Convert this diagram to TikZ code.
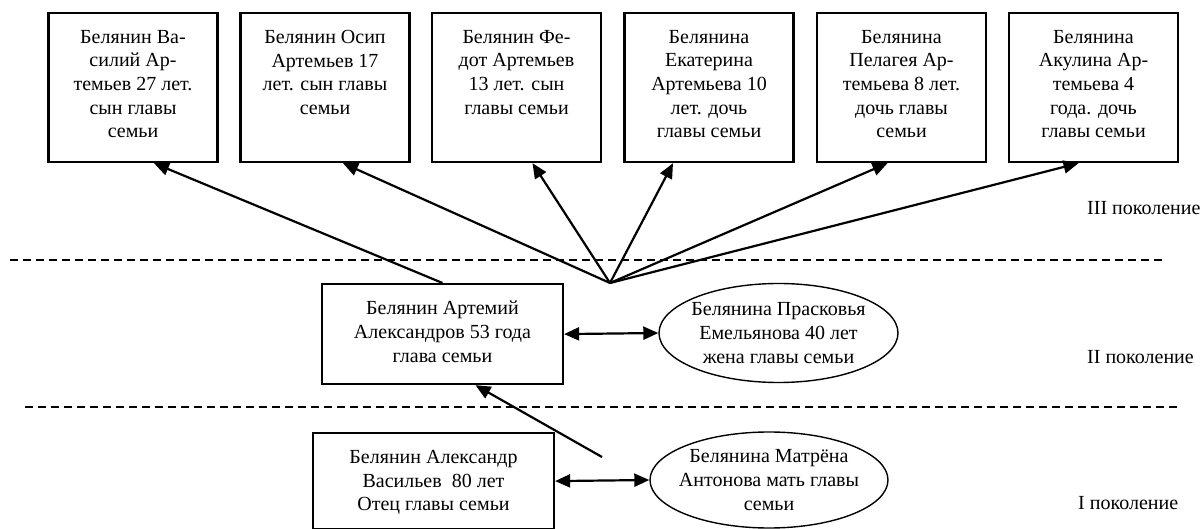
\documentclass[tikz,border=0pt]{standalone}
\usepackage{fontspec}
\setmainfont{Liberation Serif}
\usetikzlibrary{arrows.meta, shapes.geometric}

\newcommand{\toptext}[3]{\parbox[c][#2][t]{#1}{\centering\vspace*{17pt}#3}}

\tikzset{
  person/.style={draw, line width=2.2pt, inner sep=0pt, anchor=north},
  wife/.style={ellipse, draw, line width=1.4pt, inner xsep=-8pt, inner ysep=0pt, align=center},
  link/.style={line width=2.2pt, -{Triangle[length=15pt,width=13pt]}},
  marriage/.style={line width=2.2pt, {Triangle[length=15pt,width=13pt]}-{Triangle[length=15pt,width=13pt]}},
  border/.style={line width=1.4pt, dash pattern=on 8pt off 5pt},
  gen/.style={anchor=west, inner sep=0pt}
}

\begin{document}
\begin{tikzpicture}[x=1pt, y=-1pt, every node/.style={font=\fontsize{20pt}{23.7pt}\selectfont}]

    \useasboundingbox (0,0) rectangle (1203,529);

    % children of the head
    \node[person] (vasiliy) at (133,12) {\toptext{169pt}{149pt}{Белянин Ва-\\силий Ар-\\темьев 27 лет.\\сын главы\\семьи}};
    \node[person] (osip) at (325,12) {\toptext{169pt}{149pt}{Белянин Осип\\Артемьев 17\\лет. сын главы\\семьи}};
    \node[person] (fedot) at (516.5,12) {\toptext{169pt}{149pt}{Белянин Фе-\\дот Артемьев\\13 лет. сын\\главы семьи}};
    \node[person] (ekaterina) at (709,12) {\toptext{169pt}{149pt}{Белянина\\Екатерина\\Артемьева 10\\лет. дочь\\главы семьи}};
    \node[person] (pelageya) at (901.5,12) {\toptext{169pt}{149pt}{Белянина\\Пелагея Ар-\\темьева 8 лет.\\дочь главы\\семьи}};
    \node[person] (akulina) at (1093.5,12) {\toptext{169pt}{149pt}{Белянина\\Акулина Ар-\\темьева 4\\года. дочь\\главы семьи}};

    % head of the family and wife
    \node[person] (artemiy) at (442.5,283) {\toptext{241pt}{100pt}{Белянин Артемий\\Александров 53 года\\глава семьи}};
    \node[wife, minimum width=239pt, minimum height=99pt] (praskovya) at (778.5,333) {Белянина Прасковья\\Емельянова 40 лет\\жена главы семьи};

    % parents
    \node[person] (alexandr) at (433.5,432) {\toptext{241pt}{96pt}{Белянин Александр\\Васильев~ 80 лет\\Отец главы семьи}};
    \node[wife, minimum width=238pt, minimum height=96pt] (matryona) at (769,480) {Белянина Матрёна\\Антонова мать главы\\семьи};

    \coordinate (hub) at (610,283);
    \coordinate (mother) at (602,457);

    % arrows to the children
    \draw[link] (artemiy.north) -- ([xshift=21pt]vasiliy.south);
    \draw[link] (hub) -- ([xshift=18pt]osip.south);
    \draw[link] (hub) -- ([xshift=16pt]fedot.south);
    \draw[link] (hub) -- ([xshift=-36pt]ekaterina.south);
    \draw[link] (hub) -- ([xshift=-14pt]pelageya.south);
    \draw[link] (hub) -- ([xshift=-15pt]akulina.south);

    % parents to head
    \draw[link] (mother) -- ([xshift=33pt]artemiy.south);

    % couples
    \draw[marriage] (artemiy.east) -- (praskovya.west);
    \draw[marriage] (alexandr.east) -- (matryona.west);

    % generation borders
    \draw[border] (10,260) -- (1163,260);
    \draw[border] (25,407) -- (1177,407);

    \node[gen] (gen3) at (1087,208) {III поколение};
    \node[gen] (gen2) at (1087,357) {II поколение};
    \node[gen] (gen1) at (1078,503) {I поколение};

\end{tikzpicture}
\end{document}
